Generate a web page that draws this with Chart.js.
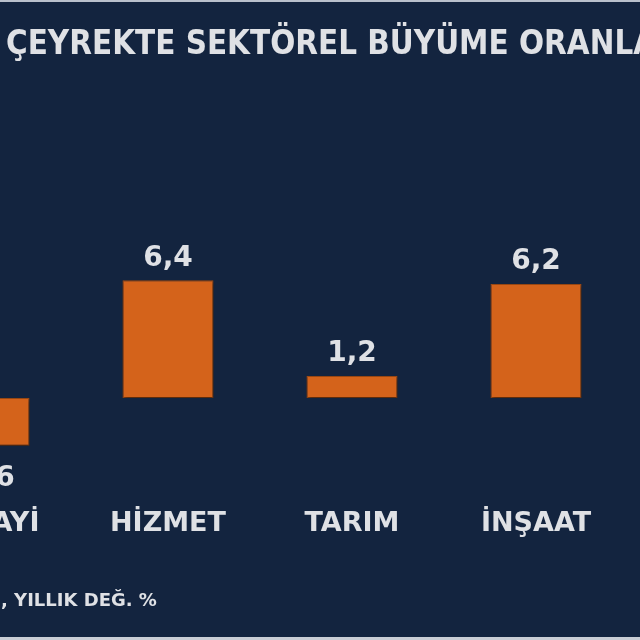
<!DOCTYPE html>
<html>
<head>
<meta charset="utf-8">
<script src="https://cdn.jsdelivr.net/npm/chart.js@4.4.1/dist/chart.umd.min.js"></script>
<style>
  html, body { margin: 0; padding: 0; }
  body { width: 640px; height: 640px; background: #13243f; position: relative; overflow: hidden; }
  #wrap { position: absolute; left: -108px; top: 0; width: 736px; height: 640px; }
  .txt { position: absolute; color: #dfe1e5; font-family: "DejaVu Sans", Verdana, sans-serif; font-weight: bold; white-space: nowrap; }
  #title { left: 6px; top: 23px; font-size: 33px; transform: scaleX(0.895); transform-origin: left center; }
  #note { left: 1px; top: 589px; font-size: 18px; }
  #edgeTop { position: absolute; left: 0; top: 0; width: 640px; height: 2px; background: #b9c0cc; }
  #edgeBot { position: absolute; left: 0; top: 637px; width: 640px; height: 3px; background: #c9ced6; }
</style>
</head>
<body>
<div id="wrap"><canvas id="chartId"></canvas></div>
<div class="txt" id="title">ÇEYREKTE SEKTÖREL BÜYÜME ORANLARI</div>
<div class="txt" id="note">, YILLIK DEĞ. %</div>
<div id="edgeTop"></div>
<div id="edgeBot"></div>
<script>
let sectors = ['SANAYİ', 'HİZMET', 'TARIM', 'İNŞAAT'];
let growth = [-2.6, 6.4, 1.2, 6.2];

function fmt(v) {
  return v.toFixed(1).replace('.', ',');
}

// soft drop shadow under the bars
const shadowPlugin = {
  id: 'shadow',
  beforeDatasetsDraw(chart) {
    const ctx = chart.ctx;
    ctx.save();
    ctx.shadowColor = 'rgba(0,0,0,0.55)';
    ctx.shadowBlur = 4;
    ctx.shadowOffsetX = 1;
    ctx.shadowOffsetY = 2;
  },
  afterDatasetsDraw(chart) {
    chart.ctx.restore();
  }
};

// value labels above/below bars and category names under the chart
const labelPlugin = {
  id: 'labels',
  afterDatasetsDraw(chart) {
    const ctx = chart.ctx;
    const meta = chart.getDatasetMeta(0);
    ctx.save();
    ctx.fillStyle = '#dfe1e5';
    ctx.textAlign = 'center';
    ctx.textBaseline = 'middle';
    ctx.font = 'bold 28px "DejaVu Sans", Verdana, sans-serif';
    meta.data.forEach((bar, i) => {
      const v = growth[i];
      const y = v >= 0 ? bar.y - 22 : bar.y + 33;
      ctx.fillText(fmt(v), bar.x, y);
    });
    ctx.font = 'bold 27px "DejaVu Sans", Verdana, sans-serif';
    sectors.forEach((s, i) => {
      const x = chart.scales.x.getPixelForValue(i);
      ctx.fillText(s, x, 524);
    });
    ctx.restore();
  }
};

new Chart(document.getElementById('chartId'), {
  type: 'bar',
  data: {
    labels: sectors,
    datasets: [{
      data: growth,
      backgroundColor: '#d4631b',
      borderColor: '#a34c14',
      borderWidth: 1,
      borderSkipped: false,
      categoryPercentage: 1,
      barPercentage: 0.495
    }]
  },
  options: {
    responsive: true,
    maintainAspectRatio: false,
    animation: false,
    layout: { padding: 0 },
    plugins: {
      legend: { display: false },
      tooltip: { enabled: false }
    },
    scales: {
      x: { display: false },
      y: { display: false, min: -13.15, max: 21.63 }
    }
  },
  plugins: [shadowPlugin, labelPlugin]
});
</script>
</body>
</html>
